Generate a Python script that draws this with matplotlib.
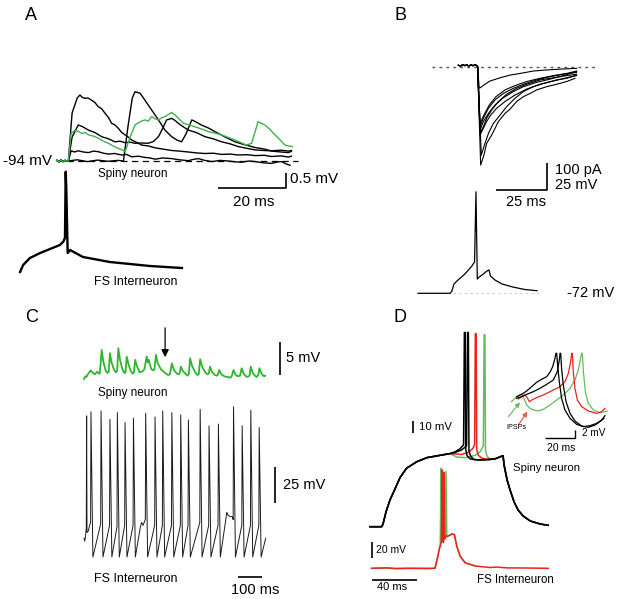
import matplotlib
matplotlib.use('Agg')
import matplotlib.pyplot as plt

plt.rcParams['font.family'] = ['Liberation Sans', 'DejaVu Sans']

# ---------------- DATA ----------------
# Panel A: spiny neuron uPSPs (ms, mV relative to -94 mV)
A_PRE = [(-3.0, 0.02), (-2.4, -0.03), (-1.8, 0.03), (-1.2, -0.02), (-0.6, 0.02), (0.0, -0.01), (0.4, 0.0)]
A_BIG = [(1.5, 1.6), (3.0, 2.1), (3.8, 2.2), (4.5, 2.12), (5.3, 2.09), (6.2, 2.1), (7.2, 2.03), (8.2, 1.95),
         (9.2, 1.81), (10.2, 1.74), (11.2, 1.59), (12.2, 1.45), (13.1, 1.26), (14.1, 1.2), (15.1, 1.09),
         (16.1, 0.95), (17.1, 0.87), (18.0, 0.8), (19.0, 0.7), (20.5, 0.62), (22.0, 0.53), (24.0, 0.5),
         (25.9, 0.44), (28.0, 0.4), (30.8, 0.35), (33.0, 0.33), (35.7, 0.3), (38.0, 0.27), (40.6, 0.25),
         (43.0, 0.26), (45.5, 0.22), (48.0, 0.23), (50.4, 0.2), (53.0, 0.21), (55.3, 0.18), (58.0, 0.19),
         (60.2, 0.15), (63.0, 0.17), (65.1, 0.13), (66.0, 0.16)]
A_MED = [(1.5, 0.8), (3.3, 1.2), (4.5, 1.15), (6.3, 1.03), (8.2, 0.95), (10.2, 0.81), (12.2, 0.74), (14.1, 0.64),
         (15.6, 0.66), (17.1, 0.61), (18.5, 0.63), (20.0, 0.59), (22.0, 0.6), (23.9, 0.59), (25.4, 0.65),
         (26.9, 0.81), (28.2, 1.1), (29.3, 1.37), (30.8, 1.42), (31.8, 1.35), (32.7, 1.26), (34.2, 1.14),
         (35.7, 1.03), (38.0, 0.95), (40.6, 0.81), (43.0, 0.74), (45.5, 0.64), (48.0, 0.57), (50.4, 0.48),
         (53.0, 0.42), (55.3, 0.37), (58.0, 0.35), (60.2, 0.34), (63.0, 0.36), (65.1, 0.33), (66.0, 0.35)]
A_LATE = [(3.0, 0.04), (6.0, -0.02), (9.0, 0.03), (12.0, -0.01), (15.0, 0.02), (16.6, 0.0), (18.0, 1.2),
          (19.2, 2.1), (20.0, 2.31), (21.5, 2.26), (22.9, 2.03), (24.9, 1.7), (26.9, 1.37), (28.8, 1.03),
          (30.8, 0.81), (32.3, 0.7), (33.7, 0.64), (35.0, 0.9), (36.7, 1.37), (38.0, 1.3), (39.5, 1.2),
          (41.6, 1.1), (44.0, 0.95), (46.5, 0.8), (49.4, 0.64), (52.0, 0.55), (55.3, 0.45), (58.0, 0.4),
          (60.2, 0.33), (63.0, 0.3), (65.1, 0.28), (66.0, 0.32)]
A_SMALL = [(1.2, 0.34), (2.2, 0.3), (3.3, 0.34), (4.8, 0.3), (6.3, 0.28), (7.8, 0.33), (9.2, 0.31),
           (10.7, 0.26), (12.2, 0.23), (14.0, 0.25), (16.1, 0.2), (17.5, 0.22), (19.0, 0.14), (21.0, 0.16),
           (22.9, 0.12), (24.5, 0.1), (25.9, 0.06), (28.0, 0.1), (30.8, 0.08), (33.0, 0.04), (35.7, 0.01),
           (37.0, 0.05), (38.6, 0.08), (40.5, 0.02), (42.6, -0.02), (45.0, 0.02), (47.5, 0.0), (49.5, -0.03),
           (51.4, -0.04), (53.5, 0.0), (55.3, -0.02), (57.8, -0.06), (60.2, -0.08), (62.0, -0.03),
           (63.1, -0.02), (64.5, -0.1), (65.6, -0.14)]
A_GREEN = [(1.2, 0.92), (2.4, 1.03), (3.4, 0.98), (4.4, 0.92), (5.4, 0.95), (6.3, 0.87), (7.8, 0.83),
           (9.2, 0.76), (10.7, 0.66), (12.2, 0.59), (13.6, 0.5), (15.1, 0.42), (16.1, 0.38), (17.1, 0.31),
           (18.6, 0.81), (20.0, 1.2), (21.5, 1.31), (22.9, 1.37), (23.9, 1.33), (24.9, 1.48), (26.0, 1.4),
           (26.9, 1.37), (28.0, 1.45), (28.8, 1.48), (30.8, 1.62), (32.3, 1.48), (34.2, 1.26), (36.0, 1.2),
           (37.6, 1.14), (39.5, 1.07), (41.6, 0.98), (43.5, 0.93), (45.5, 0.87), (47.5, 0.78), (49.4, 0.7),
           (51.0, 0.62), (52.8, 0.53), (54.3, 0.59), (56.2, 1.31), (58.2, 1.2), (59.7, 1.05), (61.2, 0.87),
           (62.7, 0.7), (64.1, 0.53), (65.2, 0.5), (66.3, 0.48)]
A_BASE_T = (0.0, 68.0)
# Panel A: FS interneuron action potential (ms, mV)
A_FS = [(-13.8, -75), (-12.9, -68), (-10.9, -61), (-7.9, -56), (-5.0, -52), (-2.1, -48), (-1.1, -44.7),
        (-0.6, -41), (-0.38, 25.3), (-0.2, 7), (0.2, -56), (0.9, -53), (4.7, -60), (12.6, -65),
        (24.4, -69), (33.8, -71)]

# Panel B: IPSCs (ms, pA)
B_PRE = [(-9.1, 5), (-8.0, 3), (-7.0, 7), (-6.0, 4), (-5.0, 6), (-4.0, 3), (-3.0, 6), (-2.0, 4), (-1.0, 6), (0.0, 4)]
B_IPSCS = [
    [(1.8, -364), (3.4, -327), (4.7, -284), (7.2, -253), (10.5, -203), (13.7, -173), (16.2, -157), (19.4, -129),
     (22.7, -111), (26.0, -99), (29.2, -86), (34.1, -74), (39.0, -65), (43.9, -55), (48.0, -43)],
    [(2.1, -327), (3.9, -284), (5.6, -247), (8.0, -210), (11.3, -179), (14.5, -148), (18.6, -117), (22.7, -92),
     (27.6, -74), (32.5, -62), (39.0, -49), (43.9, -43), (48.8, -31)],
    [(1.5, -247), (3.1, -222), (4.7, -191), (7.2, -160), (10.5, -129), (14.5, -102), (19.4, -80), (24.3, -65),
     (30.9, -49), (37.4, -41), (43.9, -33), (48.8, -28)],
    [(1.5, -234), (3.1, -203), (5.6, -173), (8.8, -142), (12.9, -115), (17.8, -92), (22.7, -74), (29.2, -58),
     (35.8, -46), (42.3, -33), (48.8, -18)],
    [(1.5, -222), (3.1, -191), (5.6, -154), (8.8, -123), (12.9, -99), (17.8, -80), (22.7, -65), (29.2, -49),
     (35.8, -37), (42.3, -28), (48.8, -21)],
    [(1.5, -210), (3.4, -179), (6.0, -142), (9.3, -111), (13.7, -86), (18.6, -70), (24.3, -55), (30.9, -43),
     (37.4, -33), (43.9, -25), (48.8, -16)],
    [(1.5, -253), (3.1, -228), (4.7, -203), (6.7, -179), (9.6, -154), (13.7, -129), (18.6, -105), (24.3, -83),
     (30.9, -65), (37.4, -53), (43.9, -41), (48.8, -33)],
    [(1.1, -80), (2.3, -74), (3.9, -65), (6.4, -53), (11.3, -41), (16.2, -31), (21.1, -25), (27.6, -16),
     (34.1, -12), (40.7, -9), (48.8, -6)],
]
B_ZERO_T = (-22.0, 59.3)
# Panel B: presynaptic FS spike (ms, mV)
B_FS = [(-28.9, -72), (-13.2, -72), (-12.3, -69.9), (-11.3, -63.4), (-9.3, -59.7), (-5.9, -54.1), (-2.5, -46.7),
        (-1.2, -43), (-0.5, 22), (0.15, -58.8), (1.0, -57), (2.5, -55), (4.9, -51.3), (5.9, -50.4), (6.6, -56),
        (8.8, -59.7), (12.3, -63.4), (17.6, -66.2), (23.5, -68.5), (29.4, -69.6)]
B_REST_T = (-28.0, 31.0)

# Panel C: spiny neuron PSPs (ms, mV relative)
C_SPINY = [(0, -0.3), (5, 0.1), (10, 0.0), (14, 0.3), (20, 0.6), (28, 1.0), (35, 0.7), (45, 0.4), (55, 0.8),
           (63, 0.5), (66, 0.6), (73.7, 4.1), (80, 2.4), (90, 1.0), (98, 0.6), (103, 0.8), (108, 3.6),
           (115, 2.2), (125, 1.1), (133, 0.7), (138, 0.9), (143, 4.36), (150, 2.6), (160, 1.2), (168, 0.6),
           (173, 0.7), (178, 3.09), (185, 2.0), (195, 0.9), (203, 0.5), (208, 0.7), (213, 2.59), (220, 1.7),
           (232, 0.7), (245, 0.9), (252, 1.2), (261, 3.1), (266, 2.2), (270, 2.6), (280, 1.2), (290, 1.0),
           (294, 1.3), (300, 3.35), (307, 2.1), (320, 1.2), (335, 0.7), (350, 0.3), (358, 0.4), (366, 2.08),
           (374, 1.1), (385, 0.6), (392, 0.4), (398, 0.5), (404, 1.57), (412, 0.9), (425, 0.4), (432, 0.2),
           (437, 0.5), (442, 2.84), (450, 1.7), (462, 0.8), (472, 0.3), (478, 0.4), (484, 2.69), (492, 1.6),
           (505, 0.7), (515, 0.4), (520, 0.5), (525, 1.57), (533, 0.8), (545, 0.3), (553, 0.2), (557, 0.3),
           (563, 1.06), (572, 0.4), (585, 0.1), (598, 0.0), (610, -0.1), (615, 0.1), (623, 1.06), (630, 0.4),
           (640, 0.1), (650, 0.2), (657, 1.32), (665, 0.5), (678, 0.0), (685, 0.1), (690, 0.2), (695, 1.57),
           (703, 0.6), (715, 0.1), (720, 0.0), (726, 0.3), (731, 1.32), (740, 0.5), (750, 0.1), (755, 0.2)]
C_ARROW_T = 338.0
# Panel C: FS interneuron spike train (ms, mV)
C_FS = [(0, -57), (3, -59), (6, -56), (9.5, -50), (11, 28), (12.5, -53), (18, -52), (22, -49), (27.5, -46),
        (29, 30.8), (37, -70), (69.5, -47), (71, 31.4), (79, -70), (106.5, -48), (108, 25.6), (116, -70),
        (137.5, -49), (139, 30.3), (147, -70), (169.5, -48), (171, 23.4), (179, -70), (204.5, -48), (206, 26.4),
        (214, -70), (234, -50), (240, -46), (246, -48), (255.5, -44), (257, 29.8), (265, -70), (294.5, -48),
        (296, 27.3), (304, -70), (326.5, -48), (328, 31.4), (336, -70), (364.5, -48), (366, 30.3), (374, -70),
        (401.5, -48), (403, 28.7), (411, -70), (433.5, -48), (435, 25.2), (443, -70), (482.5, -46), (484, 32.6),
        (492, -70), (519.5, -48), (521, 21.1), (529, -70), (558.5, -48), (560, 22.3), (568, -70), (590, -45),
        (595, -39), (600, -41), (610, -42), (618, -42), (621.5, -44), (623, 34.4), (631, -70), (657.5, -48),
        (659, 21.1), (667, -70), (693.5, -48), (695, 31.9), (703, -70), (728.5, -48), (730, 19.9), (738, -70),
        (757, -57)]

# Panel D: spiny neuron (ms, mV)
D_SP_RISE = [(0, -80), (10.2, -80), (11.4, -77.7), (14, -67.4), (17.5, -57.1), (21.9, -47.7), (26.3, -38),
             (32.0, -30), (40.9, -24.5), (49.7, -21), (61.3, -19), (70.1, -17.5)]
D_SP_FALL = [(114.8, -19.9), (116.5, -19.4), (117.3, -27.1), (120, -40), (122.6, -48.6), (126.1, -58.8),
             (129.6, -65.7), (134, -70.8), (140.2, -75.1), (148.9, -77.7), (155.9, -78.8)]
D_SP_BLACK1 = [(74.5, -16), (78.8, -13.4), (81.9, -10), (82.6, 86), (83.3, 86), (83.8, -14), (85, -19.4),
               (87.6, -22), (92, -22.8), (100.7, -22.8), (109.5, -22)]
D_SP_BLACK2 = [(74.5, -16.5), (80, -14.5), (84.5, -11), (85.4, 86), (86.1, 86), (86.6, -15), (88, -19.5),
               (90.5, -22.3), (95, -23), (105, -22.6), (109.5, -22)]
D_SP_RED = [(75, -17.8), (80, -18.3), (86, -16.5), (90.2, -13), (91.6, -9.5), (92.2, 85), (92.9, 85),
            (93.4, -14), (94.8, -19), (98, -21.5), (105, -22.5), (109.5, -22)]
D_SP_GREEN = [(72, -18.5), (76, -20.5), (84, -21), (92, -19), (96.4, -16), (99.2, -11), (99.9, 84),
              (100.6, 84), (101.1, -15), (102.5, -20), (105, -22), (109.5, -22)]
# Panel D: FS interneuron (ms, mV)
D_FS_PRE = [(1.5, -70), (15, -69.5), (22, -70.3), (35, -70), (50, -70.2), (56.9, -70), (59.3, -55.5),
            (60.8, -45)]
D_FS_RED = [(61.5, -42), (62.5, -37), (63.3, 52.9), (63.7, -33), (64.3, -38), (64.8, 50), (65.3, -33),
            (66.6, -30), (68.6, -29.5), (72.1, -27), (73.9, -28), (75.9, -42), (78.8, -54.6), (83.2, -63),
            (92, -67.1), (105, -69), (111, -68.5), (120, -69.5), (135, -69.6), (156, -70)]
D_FS_GREEN = [(61.5, -40), (62.2, 55), (62.7, -36), (64.0, -35), (65.8, -33), (66.6, 50.8), (67.2, -31),
              (68.6, -29.5), (72.1, -27), (73.9, -28), (75.9, -42), (78.8, -54.6), (83.2, -63), (92, -67.1)]
# Panel D inset: expanded spiny traces (ms, mV relative)
D_IN_BLACK1 = [(7.6, 5.37), (9.8, 5.75), (11.95, 6.14), (14.1, 6.67), (17.4, 7.67), (20.6, 8.67), (23.9, 9.36),
               (27.2, 9.97), (29.3, 10.97), (31.1, 12.27), (32.6, 14.19), (33.2, 15.34), (33.7, 15.34),
               (34.3, 12.66), (35.4, 8.82), (36.9, 4.99), (39.1, 2.3), (42.4, 0.38), (46.7, -1.0), (51.1, -1.53),
               (55.4, -1.3), (59.8, -0.77), (63.0, 0.0), (65.2, 1.0)]
D_IN_BLACK2 = [(7.6, 4.99), (10.9, 5.37), (14.1, 5.9), (18.5, 6.52), (22.8, 7.29), (27.2, 8.21), (31.5, 9.2),
               (34.1, 11.12), (35.4, 13.8), (35.9, 15.34), (36.3, 15.34), (36.9, 11.89), (38.0, 8.05),
               (39.8, 4.22), (42.4, 1.53), (45.6, -0.23), (50.0, -1.38), (54.3, -1.69), (58.7, -1.15),
               (61.9, -0.38), (64.5, 0.38)]
D_IN_RED = [(8.7, 4.83), (10.9, 5.37), (12.4, 5.75), (14.1, 5.37), (15.9, 4.22), (17.4, 4.6), (20.6, 5.14),
            (23.9, 5.6), (27.2, 6.14), (31.5, 6.9), (35.9, 7.67), (39.1, 8.82), (41.3, 10.74), (42.8, 13.42),
            (43.5, 15.34), (43.9, 15.34), (44.5, 11.12), (45.6, 7.29), (47.2, 4.6), (50.0, 3.07), (54.3, 2.07),
            (59.8, 1.53), (63.0, 1.92), (65.2, 2.68)]
D_IN_GREEN = [(4.3, 4.22), (6.5, 4.99), (8.7, 5.6), (10.9, 5.9), (12.4, 4.99), (14.1, 3.45), (16.3, 2.68),
              (18.5, 2.3), (21.7, 2.07), (25.0, 2.45), (29.3, 3.45), (33.7, 4.6), (38.0, 5.75), (42.4, 7.29),
              (45.6, 9.2), (47.8, 11.5), (49.3, 14.19), (50.0, 15.34), (50.4, 15.34), (51.1, 11.12), (52.4, 6.52),
              (54.3, 3.83), (57.6, 2.3), (61.9, 1.69), (65.2, 1.92), (66.7, 2.07)]
D_IPSP_ARROWS = [((2.2, 0.77), (9.8, 4.07)), ((8.7, -1.15), (14.6, 1.92))]

# scale bar sizes (data units)
SB_A = (20, 0.5)
SB_B = (25, 100)
SB_C = (100, 5, 25)
SB_D = (40, 10, 20)
SB_DIN = (20, 2)

# ---------------- FIGURE ----------------
W, H = 618, 599
fig = plt.figure(figsize=(W / 100, H / 100), dpi=100)

GREEN_A = '#3faf4f'
GREEN_C = '#2eb52e'
GREEN_D = '#62bd5a'
RED = '#ee2020'


def panel_ax(box, px_t0, ms_per_px, py_ref, v_ref, u_per_px):
    px0, py0, px1, py1 = box
    ax = fig.add_axes([px0 / W, 1 - py1 / H, (px1 - px0) / W, (py1 - py0) / H])
    t_left = (px0 - px_t0) * ms_per_px
    v_top = v_ref + (py_ref - py0) * u_per_px
    ax.set_xlim(t_left, t_left + (px1 - px0) * ms_per_px)
    ax.set_ylim(v_top - (py1 - py0) * u_per_px, v_top)
    ax.axis('off')
    return ax


def trace(ax, pts, color='k', lw=1.0, **kw):
    ax.plot([p[0] for p in pts], [p[1] for p in pts], color=color, lw=lw,
            solid_joinstyle='round', clip_on=False, **kw)


def bar(ax, xs, ys, lw=1.2):
    ax.plot(xs, ys, color='k', lw=lw, solid_capstyle='butt', clip_on=False)


def label(x, y, s, size, ha='left', **kw):
    fig.text(x / W, 1 - y / H, s, fontsize=size, ha=ha, va='center', **kw)


# ----- Panel A -----
axA = panel_ax((50, 80, 300, 195), 67, 20 / 68, 161, 0.0, 0.5 / 15)
axA.plot(A_BASE_T, (0, 0), color='k', lw=0.9, dashes=(5, 3.6))
for tr in (A_SMALL, A_BIG, A_MED, A_LATE):
    trace(axA, A_PRE + tr, 'k', 1.0)
trace(axA, A_PRE + A_GREEN, GREEN_A, 1.0)
sbx = 64.4
bar(axA, [sbx - SB_A[0], sbx, sbx], [-0.9, -0.9, -0.9 + SB_A[1]])

axAf = panel_ax((10, 165, 195, 280), 67, 20 / 68, 272, -75, 1.0)
trace(axAf, A_FS, 'k', 1.7)

label(25, 15, 'A', 13)
label(52, 161, '-94 mV', 11, ha='right')
label(98, 174, 'Spiny neuron', 8.5)
label(290, 179, '0.5 mV', 11)
label(253.5, 202, '20 ms', 11, ha='center')
label(94, 282, 'FS Interneuron', 9)

# ----- Panel B -----
axB = panel_ax((425, 55, 605, 205), 477, 0.49, 66.7, 0.0, 3.7)
axB.plot(B_ZERO_T, (0, 0), color='#555555', lw=1.0, dashes=(2, 3))
for tr in B_IPSCS:
    trace(axB, B_PRE + [(0.3, 0)] + tr, 'k', 0.8)
sbx = 34.3
bar(axB, [sbx - SB_B[0], sbx, sbx], [-456, -456, -456 + SB_B[1]])

axBv = panel_ax((410, 180, 565, 300), 477, 0.49, 293.3, -72, 0.926)
axBv.plot(B_REST_T, (-72, -72), color='#cccccc', lw=0.8, dashes=(2, 3))
trace(axBv, B_FS, 'k', 0.9)

label(395, 15, 'B', 13)
label(555, 170, '100 pA', 10.5)
label(555, 185, '25 mV', 10.5)
label(525.5, 202, '25 ms', 10.5, ha='center')
label(567, 293, '-72 mV', 10.5)

# ----- Panel C -----
axC = panel_ax((75, 320, 335, 385), 84, 100 / 24, 377, 0.0, 5 / 33)
trace(axC, C_SPINY, GREEN_C, 1.3)
bar(axC, [816.7, 816.7], [0.3, 0.3 + SB_C[1]])
axC.annotate('', xy=(C_ARROW_T, 3.0), xytext=(C_ARROW_T, 7.45),
             arrowprops=dict(arrowstyle='-|>', color='k', lw=0.9, mutation_scale=11, shrinkA=0, shrinkB=0),
             annotation_clip=False)

axCf = panel_ax((75, 395, 335, 585), 84, 100 / 24, 557, -70, 25 / 36)
trace(axCf, C_FS, '#1a1a1a', 0.7)
bar(axCf, [796, 796], [-32.7, -32.7 + SB_C[2]])
bar(axCf, [643, 643 + SB_C[0]], [-83.9, -83.9])

label(25, 318, 'C', 13)
label(286, 358, '5 mV', 10.5)
label(98, 393, 'Spiny neuron', 8.5)
label(283, 485, '25 mV', 10.5)
label(94, 579, 'FS Interneuron', 9)
label(255, 590, '100 ms', 10.5, ha='center')

# ----- Panel D -----
axD = panel_ax((362, 325, 560, 535), 370, 40 / 45.7, 526.7, -80, 10 / 11.7)
trace(axD, D_SP_RISE + D_SP_GREEN + D_SP_FALL, GREEN_D, 1.1)
trace(axD, D_SP_RISE + D_SP_RED + D_SP_FALL, RED, 1.1)
trace(axD, D_SP_RISE + D_SP_BLACK2 + D_SP_FALL, 'k', 1.1)
trace(axD, D_SP_RISE + D_SP_BLACK1 + D_SP_FALL, 'k', 1.1)
bar(axD, [37.4, 37.4], [0.0, SB_D[1]])

axDf = panel_ax((362, 460, 560, 590), 370, 40 / 45.7, 568.3, -70, 1.25)
trace(axDf, D_FS_PRE + D_FS_GREEN, GREEN_D, 1.1)
trace(axDf, D_FS_PRE + D_FS_RED, RED, 1.1)
bar(axDf, [1.5, 1.5], [-56.75, -56.75 + SB_D[2]])
bar(axDf, [1.5, 1.5 + SB_D[0]], [-84.6, -84.6])

axDi = panel_ax((500, 345, 612, 455), 505, 0.652, 420, 0.0, 0.23)
trace(axDi, D_IN_GREEN, GREEN_D, 0.9)
trace(axDi, D_IN_RED, RED, 0.9)
trace(axDi, D_IN_BLACK2, 'k', 0.9)
trace(axDi, D_IN_BLACK1, 'k', 0.9)
sbx = 45.8
bar(axDi, [sbx - SB_DIN[0], sbx, sbx], [-4.2, -4.2, -4.2 + SB_DIN[1]], lw=1.0)
(a0, a1), (b0, b1) = D_IPSP_ARROWS
axDi.annotate('', xy=a1, xytext=a0,
              arrowprops=dict(arrowstyle='-|>', color=GREEN_D, lw=0.8, mutation_scale=7, shrinkA=0, shrinkB=0),
              annotation_clip=False)
axDi.annotate('', xy=b1, xytext=b0,
              arrowprops=dict(arrowstyle='-|>', ec='#e8503a', fc=GREEN_D, lw=0.8, mutation_scale=7,
                              shrinkA=0, shrinkB=0),
              annotation_clip=False)

label(393, 318, 'D', 13)
label(419, 427.3, '10 mV', 8.2)
label(513.3, 468.3, 'Spiny neuron', 8.2)
label(376, 550, '20 mV', 7.5)
label(477.3, 580, 'FS Interneuron', 8.3)
label(377.3, 587.3, '40 ms', 8)
label(506.7, 427.7, 'IPSPs', 5.2)
label(581.7, 433.3, '2 mV', 7.2)
label(546.7, 447.7, '20 ms', 7.5)

fig.savefig('out.png', dpi=100)
